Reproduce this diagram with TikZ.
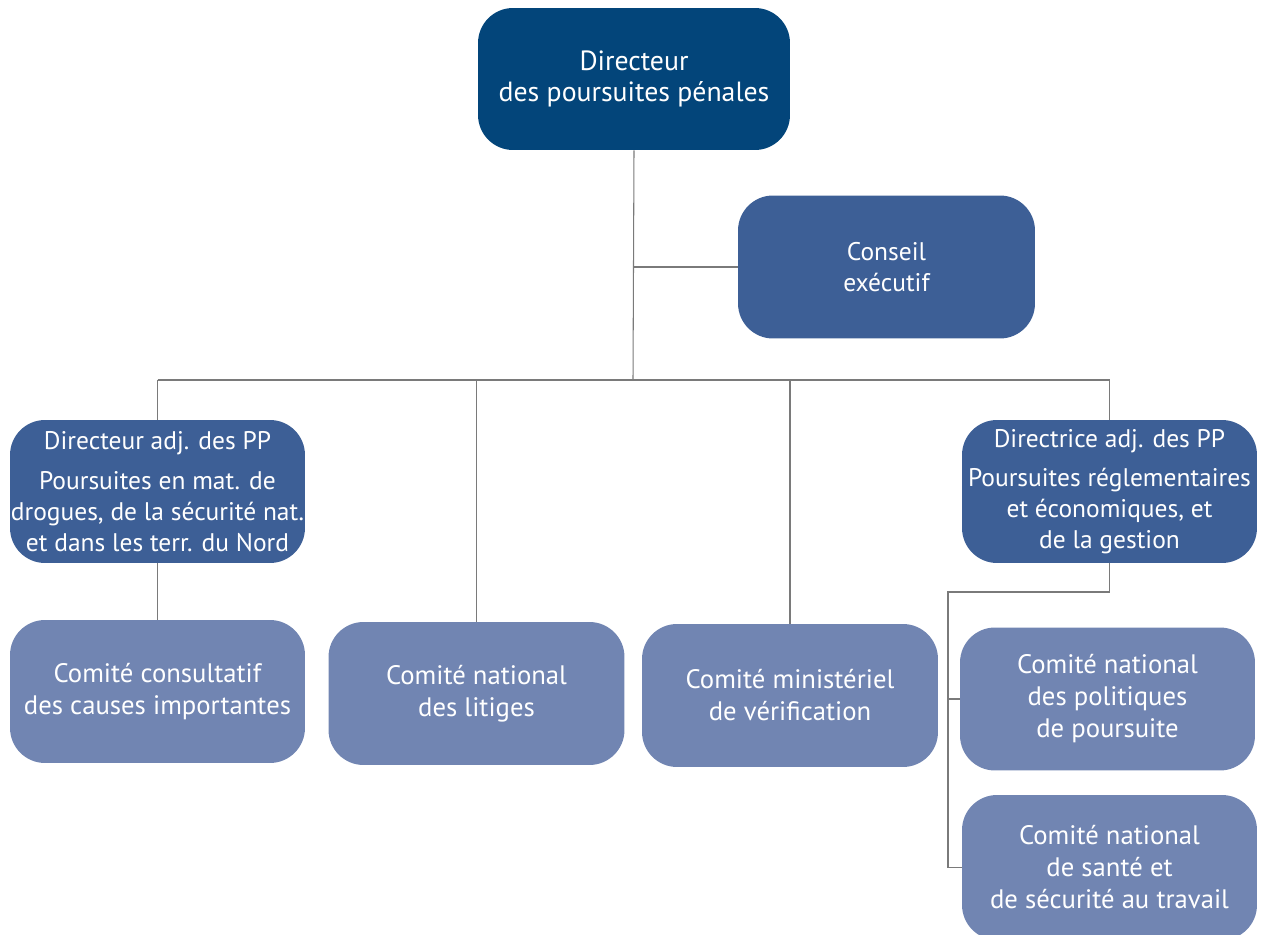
\documentclass[tikz,border=0pt]{standalone}
\usepackage{fontspec}
\setmainfont{PT Sans}
\definecolor{dpp}{HTML}{03457A}
\definecolor{adj}{HTML}{3D5F96}
\definecolor{comite}{HTML}{7185B2}
\definecolor{trait}{HTML}{7A7A7A}
\begin{document}
\begin{tikzpicture}[x=0.02cm, y=-0.02cm,
	box/.style = {rectangle, rounded corners=0.7cm, text=white, align=center,
		font=\fontsize{14.5}{17.6}\selectfont, inner sep=0pt},
	topbox/.style = {box, fill=dpp, minimum width=6.24cm, minimum height=2.84cm,
		font=\fontsize{15.8}{17.8}\selectfont},
	adjbox/.style = {box, fill=adj, minimum width=5.9cm, minimum height=2.86cm},
	comitebox/.style = {box, fill=comite, minimum width=5.92cm, minimum height=2.86cm,
		font=\fontsize{15.2}{18.2}\selectfont},
	link/.style = {draw=trait, line width=0.6pt}]
	\clip (0,0) rectangle (1265,935);
	\useasboundingbox (0,0) rectangle (1265,935);
	
	% direction
	\node[topbox] (dpp) at (634, 79) {Directeur\\des poursuites pénales};
	\node[adjbox, minimum width=5.94cm] (conseil) at (886.5, 267) {Conseil\\exécutif};
	\node[adjbox] (adjL) at (157.5, 491.5) {Directeur adj. des PP\\[5pt]Poursuites en mat. de\\drogues, de la sécurité nat.\\et dans les terr. du Nord};
	\node[adjbox] (adjR) at (1109.5, 491.5) {Directrice adj. des PP\\[5pt]Poursuites réglementaires\\et économiques, et\\de la gestion};
	
	% comites
	\node[comitebox, minimum width=5.9cm] (ccc) at (157.5, 691.5) {Comité consultatif\\des causes importantes};
	\node[comitebox] (cnl) at (476.5, 693.5) {Comité national\\des litiges};
	\node[comitebox] (cmv) at (790, 695.5) {Comité ministériel\\de vérification};
	\node[comitebox, minimum width=5.9cm] (cnp) at (1107.5, 699) {Comité national\\des politiques\\de poursuite};
	\node[comitebox, minimum width=5.9cm, minimum height=2.9cm] (cns) at (1109.5, 867.5) {Comité national\\de santé et\\de sécurité au travail};
	
	% liens
	\coordinate (bus) at (633, 380);
	\coordinate (spine) at (948, 592);
	\draw[link] (dpp.south) -- (bus);
	\draw[link] (conseil.west -| dpp.south) -- (conseil.west);
	\draw[link] (bus -| adjL.north) -- (bus -| adjR.north);
	\draw[link] (bus -| adjL.north) -- (adjL.north);
	\draw[link] (bus -| adjR.north) -- (adjR.north);
	\draw[link] (bus -| cnl.north) -- (cnl.north);
	\draw[link] (bus -| cmv.north) -- (cmv.north);
	\draw[link] (adjL.south) -- (ccc.north);
	\draw[link] (adjR.south) |- (spine) |- (cnp.west);
	\draw[link] (spine) |- (cns.west);
\end{tikzpicture}
\end{document}
